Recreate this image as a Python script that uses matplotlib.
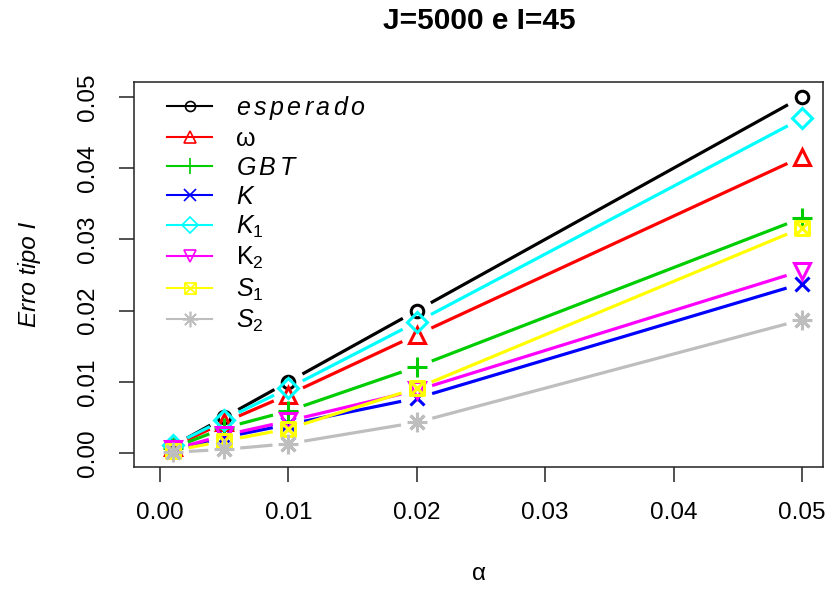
import numpy as np
import matplotlib
matplotlib.use("Agg")
import matplotlib.pyplot as plt
from matplotlib.path import Path

plt.rcParams['font.family'] = ['Liberation Sans', 'DejaVu Sans']
plt.rcParams['mathtext.fontset'] = 'custom'
plt.rcParams['mathtext.rm'] = 'Liberation Sans'
plt.rcParams['mathtext.it'] = 'Liberation Sans:italic'

# nominal levels
alpha = [0.001, 0.005, 0.01, 0.02, 0.05]

# empirical type I error per test
esperado = [0.0010, 0.0050, 0.0100, 0.0200, 0.0500]
omega = [0.0009, 0.0043, 0.0082, 0.0166, 0.0416]
gbt = [0.0007, 0.0035, 0.0059, 0.0121, 0.0330]
k = [0.0004, 0.0022, 0.0040, 0.0077, 0.0238]
k1 = [0.0011, 0.0047, 0.0091, 0.0184, 0.0470]
k2 = [0.0005, 0.0025, 0.0045, 0.0088, 0.0256]
s1 = [0.0003, 0.0017, 0.0034, 0.0091, 0.0316]
s2 = [0.0001, 0.0005, 0.0013, 0.0043, 0.0187]

labels = [r'$e\,s\,p\,e\,r\,a\,d\,o$', 'ω', r'$G\,B\,T$', r'$K$', r'$K_1$',
          r'$\mathrm{K}_2$', r'$S_1$', r'$S_2$']
xticks = [0.00, 0.01, 0.02, 0.03, 0.04, 0.05]
yticks = [0.00, 0.01, 0.02, 0.03, 0.04, 0.05]

# R pch 7: square with an x inside
sq_x = Path([(-1, -1), (1, -1), (1, 1), (-1, 1), (-1, -1), (-1, -1), (1, 1), (-1, 1), (1, -1)],
            [Path.MOVETO, Path.LINETO, Path.LINETO, Path.LINETO, Path.CLOSEPOLY,
             Path.MOVETO, Path.LINETO, Path.MOVETO, Path.LINETO])

series = [
    (esperado, 'black', 'o', 9),
    (omega, '#FF0000', '^', 11),
    (gbt, '#00CD00', '+', 14),
    (k, '#0000FF', 'x', 10),
    (k1, '#00FFFF', 'D', 10),
    (k2, '#FF00FF', 'v', 11),
    (s1, '#FFFF00', sq_x, 10),
    (s2, '#BEBEBE', (8, 2, 0), 14),
]

fig = plt.figure(figsize=(8.28, 5.91), dpi=100)
ax = fig.add_axes([134 / 828, 1 - 467 / 591, 689 / 828, 385 / 591])
ax.set_xlim(-0.00203, 0.05164)
ax.set_ylim(-0.00197, 0.0521)

gap = 16  # px, like R type="b"
xa = np.array(alpha)
for vals, col, mk, ms in series:
    pts = ax.transData.transform(np.column_stack([xa, vals]))
    for i in range(len(pts) - 1):
        p0, p1 = pts[i], pts[i + 1]
        d = p1 - p0
        L = np.hypot(*d)
        if L <= 2 * gap:
            continue
        u = d / L
        seg = ax.transData.inverted().transform(np.array([p0 + u * gap, p1 - u * gap]))
        ax.plot(seg[:, 0], seg[:, 1], color=col, lw=2.3, solid_capstyle='butt')
    ax.plot(alpha, vals, linestyle='none', marker=mk, markersize=ms,
            markerfacecolor='none', markeredgecolor=col, markeredgewidth=2.2)

# legend handles
handles = []
for vals, col, mk, ms in series:
    h, = ax.plot([], [], color=col, lw=1.5, marker=mk, markersize=ms * 0.8,
                 markerfacecolor='none', markeredgecolor=col, markeredgewidth=1.2)
    handles.append(h)
ax.legend(handles, labels, loc='upper left', bbox_to_anchor=(0.034, 0.995),
          borderaxespad=0, frameon=False, fontsize=18, handlelength=1.8,
          handletextpad=0.95, labelspacing=0.2)

ax.set_xticks(xticks)
ax.set_xticklabels(['%.2f' % v for v in xticks])
ax.set_yticks(yticks)
ax.set_yticklabels(['%.2f' % v for v in yticks], rotation=90, va='center')
ax.tick_params(length=11, width=1.1, labelsize=17.5, color='#222222')
ax.tick_params(axis='x', pad=14)
ax.tick_params(axis='y', pad=14)
for s in ax.spines.values():
    s.set_linewidth(1.1)
    s.set_color('#222222')

fig.text(479 / 828, 1 - 21 / 591, 'J=5000 e I=45', ha='center', va='center',
         fontsize=21.5, fontweight='bold')
fig.text(479 / 828, 1 - 574 / 591, 'α', ha='center', va='center', fontsize=17.5)
fig.text(30 / 828, 1 - 274 / 591, 'Erro tipo I', ha='center', va='center',
         rotation=90, fontsize=17.5, style='italic')

fig.savefig('out.png', dpi=100)
